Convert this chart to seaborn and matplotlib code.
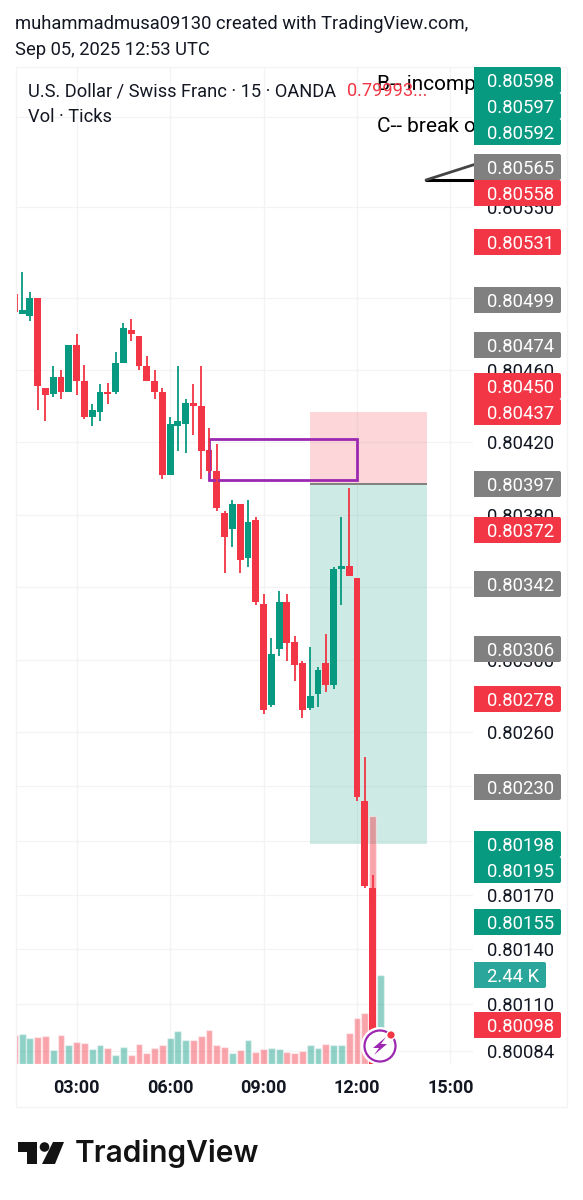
import matplotlib
matplotlib.use("Agg")
import matplotlib.pyplot as plt
import pandas as pd
import seaborn as sns
from matplotlib.patches import Circle, FancyBboxPatch, Polygon, Rectangle

# 15 minute candles, 01:00 onwards, USD/CHF
opens = [0.80502, 0.80491, 0.80490, 0.80500, 0.80450, 0.80447, 0.80456, 0.80448, 0.80474, 0.80454,
         0.80434, 0.80437, 0.80448, 0.80448, 0.80464, 0.80482, 0.80479, 0.80462, 0.80454, 0.80448,
         0.80402, 0.80429, 0.80430, 0.80442, 0.80440, 0.80416, 0.80404, 0.80381, 0.80372, 0.80386,
         0.80356, 0.80377, 0.80331, 0.80275, 0.80306, 0.80332, 0.80310, 0.80298, 0.80273, 0.80281,
         0.80298, 0.80286, 0.80350, 0.80352, 0.80345, 0.80222, 0.80174]
highs = [0.80502, 0.80514, 0.80503, 0.80500, 0.80450, 0.80462, 0.80460, 0.80474, 0.80480, 0.80463,
         0.80441, 0.80452, 0.80453, 0.80470, 0.80486, 0.80488, 0.80479, 0.80468, 0.80460, 0.80450,
         0.80434, 0.80462, 0.80444, 0.80452, 0.80462, 0.80428, 0.80419, 0.80382, 0.80388, 0.80386,
         0.80388, 0.80379, 0.80336, 0.80312, 0.80338, 0.80336, 0.80313, 0.80299, 0.80307, 0.80296,
         0.80314, 0.80351, 0.80379, 0.80395, 0.80345, 0.80246, 0.80181]
lows = [0.80492, 0.80491, 0.80487, 0.80438, 0.80432, 0.80445, 0.80444, 0.80448, 0.80446, 0.80433,
        0.80429, 0.80432, 0.80441, 0.80447, 0.80464, 0.80476, 0.80460, 0.80454, 0.80444, 0.80400,
        0.80402, 0.80415, 0.80414, 0.80424, 0.80400, 0.80403, 0.80382, 0.80348, 0.80362, 0.80348,
        0.80351, 0.80330, 0.80270, 0.80274, 0.80302, 0.80299, 0.80288, 0.80268, 0.80272, 0.80274,
        0.80282, 0.80284, 0.80330, 0.80346, 0.80222, 0.80174, 0.80060]
closes = [0.80492, 0.80493, 0.80500, 0.80451, 0.80446, 0.80456, 0.80448, 0.80474, 0.80454, 0.80434,
          0.80438, 0.80448, 0.80447, 0.80464, 0.80483, 0.80480, 0.80462, 0.80454, 0.80448, 0.80402,
          0.80430, 0.80432, 0.80442, 0.80440, 0.80415, 0.80404, 0.80384, 0.80368, 0.80386, 0.80355,
          0.80376, 0.80332, 0.80272, 0.80303, 0.80332, 0.80309, 0.80297, 0.80272, 0.80280, 0.80294,
          0.80286, 0.80350, 0.80352, 0.80346, 0.80224, 0.80175, 0.80060]
volumes = [795, 830, 712, 730, 758, 392, 795, 520, 603, 566, 402, 511, 438, 256, 466, 256,
           548, 292, 447, 511, 703, 913, 648, 648, 776, 931, 520, 475, 310, 384, 648, 338,
           420, 429, 411, 320, 301, 347, 520, 438, 548, 520, 520, 840, 1260, 1397, 6768, 2440]

time_ticks = [8, 20, 32, 44, 56]
time_labels = ["03:00", "06:00", "09:00", "12:00", "15:00"]
price_ticks = [0.80600, 0.80550, 0.80500, 0.80460, 0.80420, 0.80380, 0.80340, 0.80300,
               0.80260, 0.80230, 0.80200, 0.80170, 0.80140, 0.80110, 0.80084]

# short position tool and the purple zone
stop_price, entry_price, target_price = 0.80437, 0.80397, 0.80198
zone_top, zone_bottom = 0.80422, 0.80399

# price tags on the right scale
tag_texts = ["0.80598", "0.80597", "0.80592", "0.80565", "0.80558", "0.80531", "0.80499",
             "0.80474", "0.80450", "0.80437", "0.80397", "0.80372", "0.80342", "0.80306",
             "0.80278", "0.80230", "0.80198", "0.80195", "0.80155", "2.44 K", "0.80098"]
tag_kinds = ["up", "up", "up", "grey", "down", "down", "grey", "grey", "down", "down", "grey",
             "down", "grey", "grey", "down", "grey", "up", "up", "up", "vol", "down"]
tag_rows = [80, 106, 132, 167, 193, 242, 300, 345, 386, 412, 484, 530, 584, 649, 699, 787,
            844, 870, 922, 975, 1025]

UP = "#089981"
DOWN = "#f23645"
GRID = "#f3f3f6"
INK = "#131722"
tag_colors = {"up": UP, "down": DOWN, "grey": "#808080", "vol": "#2ba69a"}

sns.set_theme(style="white")
plt.rcParams["font.family"] = ["Roboto", "DejaVu Sans"]

W, H = 583, 1200
fig = plt.figure(figsize=(W / 100, H / 100), dpi=100, facecolor="white")
pos = [15.5 / W, 1 - 1064 / H, (473 - 15.5) / W, (1064 - 67) / H]
xlim = (0.15, 58.9)
ylim = (0.800766, 0.806274)

# bottom layer: grid, scales and the position tool
ax = fig.add_axes(pos, zorder=1)
ax.set_xlim(xlim)
ax.set_ylim(ylim)
ax.set_xticks(time_ticks, time_labels, fontweight="bold", fontsize=13, color=INK)
ax.set_yticks(price_ticks, [f"{p:.5f}" for p in price_ticks], fontsize=13.3, color=INK)
ax.yaxis.tick_right()
ax.tick_params(axis="x", length=0, pad=11)
ax.tick_params(axis="y", length=0, pad=10)
ax.grid(True, color=GRID, lw=0.9)
sns.despine(ax=ax, left=True, right=True, top=True, bottom=True)
ax.add_patch(Rectangle((38, entry_price), 15, stop_price - entry_price, color=DOWN, alpha=0.2, lw=0))
ax.add_patch(Rectangle((38, target_price), 15, entry_price - target_price, color=UP, alpha=0.2, lw=0))
ax.hlines(entry_price, 38, 53, color="#808080", lw=1.4)

# volume pane
vol = pd.DataFrame({"i": range(len(volumes)), "volume": volumes})
vol["side"] = ["up" if c >= o else "down" for o, c in zip(opens, closes)] + ["up"]
vol_ax = fig.add_axes(pos, zorder=2)
vol_ax.patch.set_alpha(0)
sns.barplot(data=vol, x="i", y="volume", hue="side", palette={"up": UP, "down": DOWN},
            native_scale=True, dodge=False, width=0.88, saturation=1, alpha=0.45,
            errorbar=None, legend=False, ax=vol_ax)
vol_ax.set_xlim(xlim)
vol_ax.set_ylim(0, 27200)
vol_ax.axis("off")

# candles
cax = fig.add_axes(pos, zorder=3)
cax.patch.set_alpha(0)
cax.set_xlim(xlim)
cax.set_ylim(ylim)
cax.axis("off")

for i, (o, h, l, c) in enumerate(zip(opens, highs, lows, closes)):
    color = UP if c >= o else DOWN
    cax.vlines(i, l, h, color=color, lw=1.3)
    cax.bar(i, abs(c - o), bottom=min(o, c), width=0.88, color=color, lw=0)

cax.add_patch(Rectangle((25, zone_bottom), 19, zone_top - zone_bottom, fill=False,
                        edgecolor="#9c27b0", lw=2))

# page overlay in pixels: frame, headers, tags, logo
over = fig.add_axes([0, 0, 1, 1], zorder=5)
over.patch.set_alpha(0)
over.set_xlim(0, W)
over.set_ylim(H, 0)
over.axis("off")
over.add_patch(Rectangle((15.5, 67), 551.5, 1040, fill=False, edgecolor=GRID, lw=0.9))

over.text(15, 24, "muhammadmusa09130 created with TradingView.com,", fontsize=13.2, color=INK, va="center")
over.text(15, 50, "Sep 05, 2025 12:53 UTC", fontsize=13.2, color=INK, va="center")
over.text(28, 91, "U.S. Dollar / Swiss Franc · 15 · OANDA", fontsize=13.15, color=INK, va="center")
over.text(28, 117, "Vol · Ticks", fontsize=13.15, color=INK, va="center")
over.text(377, 85, "B-- incomplete", fontsize=15, color="black", va="center", clip_on=True)
over.text(377, 127, "C-- break of", fontsize=15, color="black", va="center", clip_on=True)
over.text(347, 91, "0.79993...", fontsize=13.15, color=DOWN, va="center")
over.plot([426, 476], [180, 180], color="black", lw=2.2, solid_capstyle="round")
over.plot([426, 476], [180, 164], color="#444444", lw=2)

for text, kind, row in zip(tag_texts, tag_kinds, tag_rows):
    right = 546 if kind == "vol" else 561
    color = tag_colors[kind]
    over.add_patch(Rectangle((474, row - 13), 30, 26, color=color, lw=0, zorder=4))
    over.add_patch(FancyBboxPatch((480, row - 12), right - 481, 24, boxstyle="round,pad=1,rounding_size=2",
                                  facecolor=color, edgecolor="none", zorder=4))
    over.text(487, row, text, fontsize=13.3, color="white", va="center_baseline", zorder=5)

# lightning badge
over.add_patch(Circle((380, 1046), 19, color="white", lw=0, zorder=6))
over.add_patch(Circle((380, 1046), 15.5, facecolor="white", edgecolor="#9c27b0", lw=1.6, zorder=6))
over.add_patch(Polygon([(386, 1037), (373, 1048), (379, 1048), (374, 1055), (387, 1044), (381, 1044)],
                       color="#9c27b0", lw=0, zorder=7))
over.add_patch(Circle((391, 1035), 5, color="white", lw=0, zorder=7))
over.add_patch(Circle((391, 1035), 3.6, color=DOWN, lw=0, zorder=8))

# TradingView logo
logo = "#131313"
over.add_patch(Polygon([(18, 1142), (37, 1142), (37, 1164), (27, 1164), (27, 1152), (18, 1152)], color=logo, lw=0))
over.add_patch(Circle((44.5, 1147), 4.8, color=logo, lw=0))
over.add_patch(Polygon([(53, 1142), (64, 1142), (55, 1164), (42, 1164)], color=logo, lw=0))
over.text(75, 1154, "TradingView", fontsize=21.5, fontweight="semibold", family=["Inter", "DejaVu Sans"],
          color=logo, va="center")

fig.savefig("out.png", dpi=100)
